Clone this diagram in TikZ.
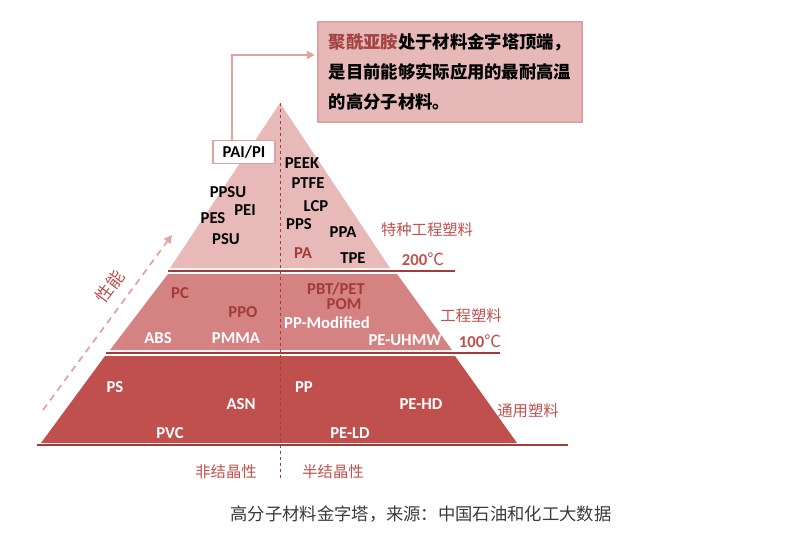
\documentclass[tikz,border=0pt]{standalone}
\usepackage{fontspec}
\setmainfont{Carlito}
\newfontfamily\cjk{Noto Sans CJK SC}
\usetikzlibrary{arrows.meta}
\definecolor{tiertop}{HTML}{E8B9B9}
\definecolor{tiermid}{HTML}{D58282}
\definecolor{tierbot}{HTML}{C0504D}
\definecolor{darkline}{HTML}{A23C3B}
\definecolor{labelred}{HTML}{C0504D}
\definecolor{notefill}{HTML}{E6B9B8}
\definecolor{notedraw}{HTML}{DDA3A3}
\definecolor{connpink}{HTML}{E3A2A2}
\definecolor{captiongray}{HTML}{3A3A3A}
\begin{document}
\begin{tikzpicture}[x=0.75pt,y=-0.75pt, every node/.style={font=\bfseries\fontsize{12.5}{14}\selectfont,inner sep=1pt},
  darkpoly/.style={text=black}, whitepoly/.style={text=white}, redpoly/.style={text=darkline},
  grade/.style={font=\cjk\fontsize{11.5}{13}\selectfont,text=labelred},
  tierline/.style={darkline,line width=1.5pt},
  axisline/.style={darkline,line width=0.7pt,dash pattern=on 2.5pt off 2pt}]
\useasboundingbox (0,0) rectangle (801,539);
% pyramid tiers
\fill[tiertop] (280,103) -- (390,268) -- (170,268) -- cycle;
\fill[tiermid] (168,274) -- (397,274) -- (452,350) -- (110,350) -- cycle;
\fill[tierbot] (105,356) -- (455,356) -- (517,443) -- (41,443) -- cycle;
\draw[tierline] (168,270.5) -- (455,270.5); \draw[tierline] (106,352.5) -- (500,352.5); \draw[tierline] (37,445) -- (568,445);
\coordinate (apex) at (280,103); \coordinate (axisfoot) at (280,478);
\draw[axisline] (apex) -- (axisfoot);
% note and pointer
\node[draw=notedraw,fill=notefill,line width=0.8pt,minimum width=198pt,minimum height=75pt,align=left,
  font=\cjk\bfseries\fontsize{13}{22.5}\selectfont,inner sep=0pt] (note) at (450,72)
  {\textcolor{labelred!85!black}{聚酰亚胺}处于材料金字塔顶端，\\是目前能够实际应用的最耐高温\\的高分子材料。};
\node[draw=notedraw,fill=white,line width=0.8pt,minimum width=46.5pt,minimum height=17pt,darkpoly] (pai) at (244,152) {PAI/PI};
\coordinate (bend) at (232,55);
\draw[connpink,line width=1.5pt,-{Triangle[length=6pt,width=6pt]},shorten >=2pt] (pai.north -| bend) -- (bend) -- (bend -| note.west);
% performance arrow
\coordinate (perfstart) at (43,410); \coordinate (perfend) at (172,235);
\draw[connpink,line width=1.3pt,dash pattern=on 5pt off 4pt,-{Triangle[length=6pt,width=6pt]}] (perfstart) -- (perfend)
  node[pos=0.64,above=7pt,sloped,font=\cjk\fontsize{13}{15}\selectfont,text=labelred] (perflabel) {性能};
% special engineering plastics
\node[darkpoly] (peek) at (302,163) {PEEK};
\node[darkpoly] (ptfe) at (308,183) {PTFE};
\node[darkpoly] (lcp) at (316,206) {LCP};
\node[darkpoly] (pps) at (299,224) {PPS};
\node[darkpoly] (ppa) at (343,232) {PPA};
\node[redpoly] (pa) at (303,253) {PA};
\node[darkpoly] (tpe) at (353,258) {TPE};
\node[darkpoly] (ppsu) at (228,192) {PPSU};
\node[darkpoly] (pei) at (245,210) {PEI};
\node[darkpoly] (pes) at (213,218) {PES};
\node[darkpoly] (psu) at (226,239) {PSU};
\node[grade] (special) at (427,230) {特种工程塑料};
\node[text=labelred] (t200) at (423,259) {200{\cjk\mdseries ℃}};
% engineering plastics
\node[redpoly] (pc) at (180,293) {PC};
\node[redpoly] (ppo) at (243,312) {PPO};
\node[whitepoly] (abs) at (158,338) {ABS};
\node[whitepoly] (pmma) at (236,338) {PMMA};
\node[redpoly] (pbt) at (336,289) {PBT/PET};
\node[redpoly] (pom) at (344,304) {POM};
\node[whitepoly] (ppmod) at (327,323) {PP-Modified};
\node[whitepoly] (peuhmw) at (405,340) {PE-UHMW};
\node[grade] (engineering) at (471,316) {工程塑料};
\node[text=labelred] (t100) at (480,341) {100{\cjk\mdseries ℃}};
% commodity plastics
\node[whitepoly] (ps) at (115,387) {PS};
\node[whitepoly] (asn) at (241,404) {ASN};
\node[whitepoly] (pvc) at (170,433) {PVC};
\node[whitepoly] (pp) at (304,387) {PP};
\node[whitepoly] (pehd) at (421,404) {PE-HD};
\node[whitepoly] (peld) at (350,433) {PE-LD};
\node[grade] (commodity) at (528,411) {通用塑料};
\node[grade] (amorph) at (226,472) {非结晶性};
\node[grade] (semicryst) at (333,472) {半结晶性};
\node[font=\cjk\fontsize{13}{15}\selectfont,text=captiongray] (caption) at (421,514) {高分子材料金字塔，来源：中国石油和化工大数据};
\end{tikzpicture}
\end{document}
